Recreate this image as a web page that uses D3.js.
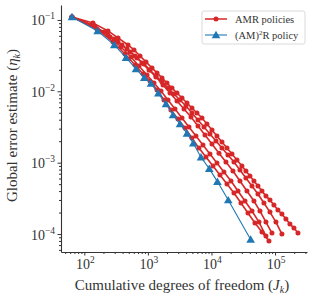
<!DOCTYPE html>
<html lang="en">
<head>
  <meta charset="UTF-8" />
  <title>AMR policies vs (AM)2R policy</title>
  <script src="https://d3js.org/d3.v7.min.js"></script>
  <style>
    html, body {
      margin: 0;
      padding: 0;
      background: white;
    }
    svg {
      display: block;
      font-family: "Liberation Serif", "DejaVu Serif", serif;
    }
    .axis path, .axis line {
      stroke: #333;
    }
  </style>
</head>
<body>
<div id="chart"></div>
<script>
// cumulative degrees of freedom J_k and error estimate eta_k
const blueJ   = [64, 162, 296, 453, 650, 877, 1119, 1459, 1927, 2484, 3200, 4120, 5176, 6840, 9230, 12400, 18360, 41300];
const blueEta = [0.110, 0.0701, 0.0447, 0.0296, 0.0206, 0.0155, 0.0129, 0.00937, 0.00664, 0.00465, 0.00348, 0.00257, 0.00187, 0.00119, 0.000826, 0.000543, 0.000299, 0.0000839];

const redAJ   = [64, 137, 236, 339, 487, 605, 752, 934, 1161, 1391, 1667, 1997, 2393, 2870, 3436, 4121, 4932, 5916, 7096, 8492, 10190, 12190, 14620, 17540, 20990, 25180, 30130, 34830, 40270, 46560, 53830, 62230, 71940, 83180, 95940, 110900, 128200, 148200, 171400, 198200, 229100];
const redAEta = [0.110, 0.0908, 0.0702, 0.0560, 0.0446, 0.0380, 0.0313, 0.0258, 0.0212, 0.0181, 0.0154, 0.0131, 0.0111, 0.00946, 0.00805, 0.00686, 0.00583, 0.00497, 0.00423, 0.00348, 0.00287, 0.00237, 0.00195, 0.00160, 0.00132, 0.00109, 0.000897, 0.000764, 0.000650, 0.000553, 0.000471, 0.000401, 0.000340, 0.000299, 0.000255, 0.000217, 0.000191, 0.000162, 0.000138, 0.000121, 0.000103];

const redBJ   = [64, 132, 204, 293, 392, 523, 674, 869, 1079, 1340, 1667, 2070, 2570, 3199, 3972, 4932, 6138, 7621, 9462, 11780, 14620, 18160, 22590, 28060, 34830, 43350, 53830, 66830, 83180, 103300, 128200];
const redBEta = [0.110, 0.0851, 0.0679, 0.0542, 0.0446, 0.0356, 0.0293, 0.0242, 0.0199, 0.0164, 0.0135, 0.0111, 0.00917, 0.00755, 0.00622, 0.00497, 0.00396, 0.00316, 0.00252, 0.00201, 0.00160, 0.00128, 0.00102, 0.000789, 0.000610, 0.000471, 0.000363, 0.000272, 0.000203, 0.000147, 0.000100];

const redCJ   = [64, 148, 236, 339, 470, 627, 807, 1040, 1340, 1730, 2228, 2870, 3698, 4764, 6138, 7907, 10190, 13120, 16900, 21780, 28060, 36140, 46560, 57940, 71940, 89330];
const redCEta = [0.110, 0.0798, 0.0617, 0.0491, 0.0392, 0.0313, 0.0249, 0.0199, 0.0159, 0.0123, 0.00946, 0.00731, 0.00565, 0.00437, 0.00327, 0.00244, 0.00182, 0.00136, 0.00102, 0.000764, 0.000553, 0.000401, 0.000290, 0.000210, 0.000147, 0.000103];

const redDJ   = [64, 158, 283, 437, 627, 838, 1079, 1391, 1791, 2307, 2972, 3828, 4932, 6353, 8185, 10560, 13610, 17540, 22590, 29110, 37500, 48310, 62230, 80170];
const redDEta = [0.110, 0.0748, 0.0491, 0.0333, 0.0234, 0.0175, 0.0140, 0.0104, 0.00755, 0.00547, 0.00409, 0.00306, 0.00222, 0.00160, 0.00120, 0.000897, 0.000671, 0.000502, 0.000375, 0.000272, 0.000197, 0.000143, 0.000107, 0.0000798];

const redEJ   = [64, 142, 254, 378, 542, 724, 968, 1247, 1607, 2070, 2667, 3436, 4426, 5702, 7345, 9462, 12190, 15700, 20280, 26120, 33650, 43350, 55850, 71940];
const redEEta = [0.110, 0.0824, 0.0578, 0.0418, 0.0303, 0.0226, 0.0169, 0.0131, 0.0101, 0.00755, 0.00565, 0.00423, 0.00316, 0.00237, 0.00177, 0.00132, 0.000989, 0.000740, 0.000553, 0.000401, 0.000290, 0.000210, 0.000147, 0.0000938];

const xDecades = [2, 3, 4, 5];
const yDecades = [-1, -2, -3, -4];
const legendLabels = ["AMR policies", "(AM)", "R policy"];

const red = "#d62728", blue = "#1f77b4";

const W = 316, H = 299;
const plot = { left: 61, right: 307, top: 5, bottom: 252 };

const svg = d3.select("#chart").append("svg")
  .attr("width", W)
  .attr("height", H);

const x = d3.scaleLog().domain([43, 3.18e5]).range([plot.left, plot.right]);
const y = d3.scaleLog().domain([5.6e-5, 0.162]).range([plot.bottom, plot.top]);

function minorTicks(scale) {
  const [a, b] = scale.domain();
  const out = [];
  for (let e = Math.floor(Math.log10(a)); e <= Math.ceil(Math.log10(b)); e++) {
    for (let m = 2; m <= 9; m++) {
      const v = m * Math.pow(10, e);
      if (v >= a && v <= b) out.push(v);
    }
  }
  return out;
}

// minor ticks
svg.append("g").attr("class", "axis")
  .attr("transform", `translate(0,${plot.bottom})`)
  .call(d3.axisBottom(x).tickValues(minorTicks(x)).tickSize(2).tickFormat(""))
  .call(g => g.select(".domain").remove());
svg.append("g").attr("class", "axis")
  .attr("transform", `translate(${plot.left},0)`)
  .call(d3.axisLeft(y).tickValues(minorTicks(y)).tickSize(2).tickFormat(""))
  .call(g => g.select(".domain").remove());

// major ticks + spines
svg.append("g").attr("class", "axis")
  .attr("transform", `translate(0,${plot.bottom})`)
  .call(d3.axisBottom(x).tickValues(xDecades.map(e => Math.pow(10, e))).tickSize(3.5).tickSizeOuter(0).tickFormat(""));
svg.append("g").attr("class", "axis")
  .attr("transform", `translate(${plot.left},0)`)
  .call(d3.axisLeft(y).tickValues(yDecades.map(e => Math.pow(10, e))).tickSize(3.5).tickSizeOuter(0).tickFormat(""));
svg.selectAll(".axis .domain").attr("stroke-width", 1.1);

// power-of-ten labels
xDecades.forEach(e => {
  const t = svg.append("text")
    .attr("x", x(Math.pow(10, e)) + 1)
    .attr("y", 269)
    .attr("text-anchor", "middle")
    .attr("font-size", 14)
    .attr("fill", "#333");
  t.append("tspan").text("10");
  t.append("tspan").attr("dy", -6).attr("font-size", 9.5).text(e);
});
yDecades.forEach(e => {
  const t = svg.append("text")
    .attr("x", 55)
    .attr("y", y(Math.pow(10, e)) + 5.5)
    .attr("text-anchor", "end")
    .attr("font-size", 14)
    .attr("fill", "#333");
  t.append("tspan").text("10");
  t.append("tspan").attr("dy", -6).attr("font-size", 9.5).text("\u2212" + (-e));
});

// axis titles
const xt = svg.append("text")
  .attr("x", (plot.left + plot.right) / 2 - 2)
  .attr("y", 290)
  .attr("text-anchor", "middle")
  .attr("font-size", 15)
  .attr("fill", "#333");
xt.append("tspan").text("Cumulative degrees of freedom (");
xt.append("tspan").attr("font-style", "italic").text("J");
xt.append("tspan").attr("font-style", "italic").attr("font-size", 10).attr("dy", 3).text("k");
xt.append("tspan").attr("dy", -3).text(")");

const yt = svg.append("text")
  .attr("transform", `translate(17,${(plot.top + plot.bottom) / 2 - 3}) rotate(-90)`)
  .attr("text-anchor", "middle")
  .attr("font-size", 15)
  .attr("fill", "#333");
yt.append("tspan").text("Global error estimate (");
yt.append("tspan").attr("font-style", "italic").text("\u03b7");
yt.append("tspan").attr("font-style", "italic").attr("font-size", 10).attr("dy", 3).text("k");
yt.append("tspan").attr("dy", -3).text(")");

// series
const line = d3.line().x(d => x(d[0])).y(d => y(d[1]));
const redSeries = [
  [redAJ, redAEta], [redBJ, redBEta], [redCJ, redCEta], [redDJ, redDEta], [redEJ, redEEta]
].map(([js, es]) => js.map((j, i) => [j, es[i]]));
const blueSeries = blueJ.map((j, i) => [j, blueEta[i]]);

const tri = d3.symbol().type(d3.symbolTriangle).size(32);

redSeries.forEach(s => {
  svg.append("path").datum(s)
    .attr("d", line).attr("fill", "none")
    .attr("stroke", red).attr("stroke-width", 1.6);
  svg.selectAll(null).data(s).enter().append("circle")
    .attr("cx", d => x(d[0])).attr("cy", d => y(d[1]))
    .attr("r", 2.5).attr("fill", red);
});

svg.append("path").datum(blueSeries)
  .attr("d", line).attr("fill", "none")
  .attr("stroke", blue).attr("stroke-width", 1.1);
svg.selectAll(".tri").data(blueSeries).enter().append("path")
  .attr("class", "tri")
  .attr("transform", d => `translate(${x(d[0])},${y(d[1]) + 0.8})`)
  .attr("d", tri).attr("fill", blue);

// legend
const lg = svg.append("g").attr("transform", "translate(202,11)");
lg.append("rect")
  .attr("width", 103).attr("height", 33).attr("rx", 2)
  .attr("fill", "white").attr("fill-opacity", 0.8)
  .attr("stroke", "#d0d0d0").attr("stroke-width", 0.8);
lg.append("line").attr("x1", 3).attr("x2", 25).attr("y1", 8).attr("y2", 8)
  .attr("stroke", red).attr("stroke-width", 1.5);
lg.append("circle").attr("cx", 14).attr("cy", 8).attr("r", 2.5).attr("fill", red);
lg.append("line").attr("x1", 3).attr("x2", 25).attr("y1", 24).attr("y2", 24)
  .attr("stroke", blue).attr("stroke-width", 1.1);
lg.append("path").attr("transform", "translate(14,24.8)").attr("d", tri).attr("fill", blue);
lg.append("text").attr("x", 33).attr("y", 11.5).attr("font-size", 10.5).attr("fill", "#333")
  .text(legendLabels[0]);
const l2 = lg.append("text").attr("x", 33).attr("y", 27.5).attr("font-size", 10.5).attr("fill", "#333");
l2.append("tspan").text(legendLabels[1]);
l2.append("tspan").attr("dy", -4).attr("font-size", 7).text("2");
l2.append("tspan").attr("dy", 4).text(legendLabels[2]);
</script>
</body>
</html>
